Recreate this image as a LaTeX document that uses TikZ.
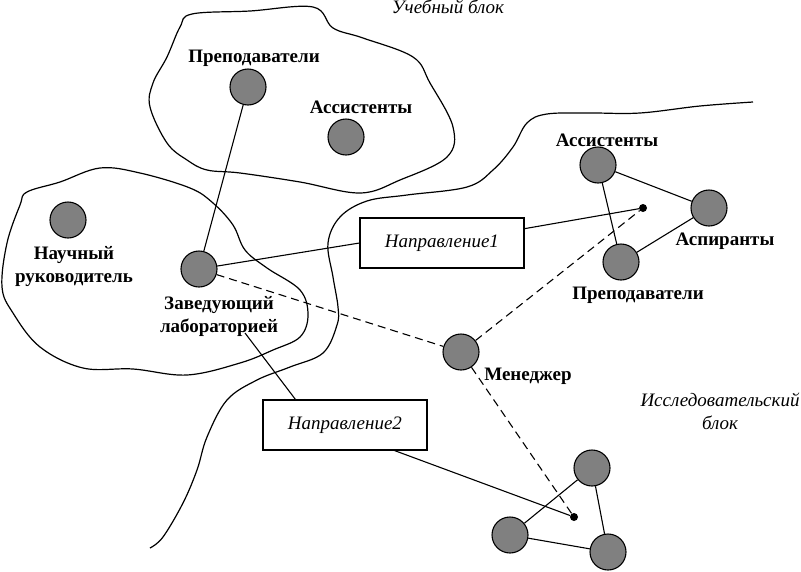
\documentclass[tikz,border=0pt]{standalone}
\usepackage{fontspec}
\setmainfont{Liberation Serif}
\usepackage{tikz}
\usetikzlibrary{calc}
\tikzset{member/.style = {shape = circle, draw, fill = gray, minimum size = 36pt, inner sep = 0pt, line width = 1.1pt}}
\tikzset{role/.style = {font = \fontsize{19}{23}\selectfont\bfseries, align = center}}
\tikzset{branch/.style = {shape = rectangle, draw, minimum width = 164pt, minimum height = 50pt, font = \fontsize{19}{23}\selectfont\itshape, line width = 1.1pt}}
\tikzset{zone/.style = {font = \fontsize{19}{23}\selectfont\itshape, align = center}}
\tikzset{hub/.style = {shape = circle, fill = black, minimum size = 8pt, inner sep = 0pt}}
\tikzset{link/.style = {-, line width = 1.1pt}}
\tikzset{task/.style = {-, line width = 1.1pt, dash pattern = on 8pt off 5pt}}
\tikzset{border/.style = {line width = 1.2pt}}

\begin{document}
\begin{tikzpicture}[x = 1pt, y = -1pt]
				\useasboundingbox (0, 0) rectangle (801, 571);

				\draw[border] plot[smooth cycle, tension = 0.6] coordinates {(192, 14) (250, 11) (313, 7) (333, 28) (363, 38) (413, 57) (430, 83) (453, 127) (447, 157) (400, 180) (360, 193) (300, 182) (240, 173) (207, 170) (187, 160) (167, 143) (150, 107) (153, 83) (167, 57) (180, 27)};
				\draw[border] plot[smooth cycle, tension = 0.6] coordinates {(27, 192) (60, 182) (100, 168) (140, 173) (190, 188) (213, 203) (233, 225) (245, 250) (267, 268) (300, 290) (308, 315) (300, 337) (273, 350) (240, 363) (187, 375) (133, 369) (83, 368) (40, 347) (13, 313) (2, 287) (7, 243) (20, 205)};
				\draw[border] plot[smooth, tension = 0.6] coordinates {(753, 102) (700, 106) (640, 113) (590, 113) (547, 114) (527, 123) (513, 147) (493, 170) (467, 187) (407, 195) (367, 201) (340, 217) (328, 243) (333, 277) (338, 307) (337, 325) (323, 353) (290, 367) (257, 380) (227, 400) (207, 437) (197, 470) (183, 503) (163, 537) (150, 548)};

				\node[zone] (study) at (448, 7) {Учебный блок};
				\node[zone] (research) at (720, 411) {Исследовательский\\блок};

				\node[member] (tutors) at (248, 87) {};
				\node[member] (assist) at (346, 137) {};
				\node[member] (advisor) at (68, 220) {};
				\node[member] (head) at (199, 269) {};
				\node[member] (manager) at (461, 352) {};
				\node[member] (rassist) at (598, 165) {};
				\node[member] (rgrad) at (709, 208) {};
				\node[member] (rtutors) at (621, 262) {};
				\node[member] (ta) at (592, 468) {};
				\node[member] (tb) at (510, 535) {};
				\node[member] (tc) at (608, 552) {};

				\node[role] (tutorsl) at (254, 58) {Преподаватели};
				\node[role] (assistl) at (361, 107) {Ассистенты};
				\node[role] (advisorl) at (74, 267) {Научный\\руководитель};
				\node[role] (headl) at (219, 316) {Заведующий\\лабораторией};
				\node[role] (managerl) at (528, 376) {Менеджер};
				\node[role] (rassistl) at (607, 140) {Ассистенты};
				\node[role] (rgradl) at (725, 241) {Аспиранты};
				\node[role] (rtutorsl) at (638, 295) {Преподаватели};

				\node[branch] (dir1) at (442, 243) {Направление1};
				\node[branch] (dir2) at (345, 425) {Направление2};

				\node[hub] (hub1) at (643, 208) {};
				\node[hub] (hub2) at (574, 517) {};
				\coordinate (labtip) at (245, 333);

				\draw[link] (tutors) to (head);
				\draw[link] (head) to (dir1.west);
				\draw[link] (dir1) to (hub1);
				\draw[link] (labtip) to ($(dir2.north west)!0.2!(dir2.north east)$);
				\draw[link] ($(dir2.south west)!0.8!(dir2.south east)$) to (hub2);

				\draw[task] (head) to (manager);
				\draw[task] (manager) to (hub1);
				\draw[task] (manager) to (hub2);

				\draw[link] (rassist) to (rgrad);
				\draw[link] (rgrad) to (rtutors);
				\draw[link] (rassist) to (rtutors);
				\draw[link] (ta) to (tb);
				\draw[link] (tb) to (tc);
				\draw[link] (tc) to (ta);
			\end{tikzpicture}
\end{document}
